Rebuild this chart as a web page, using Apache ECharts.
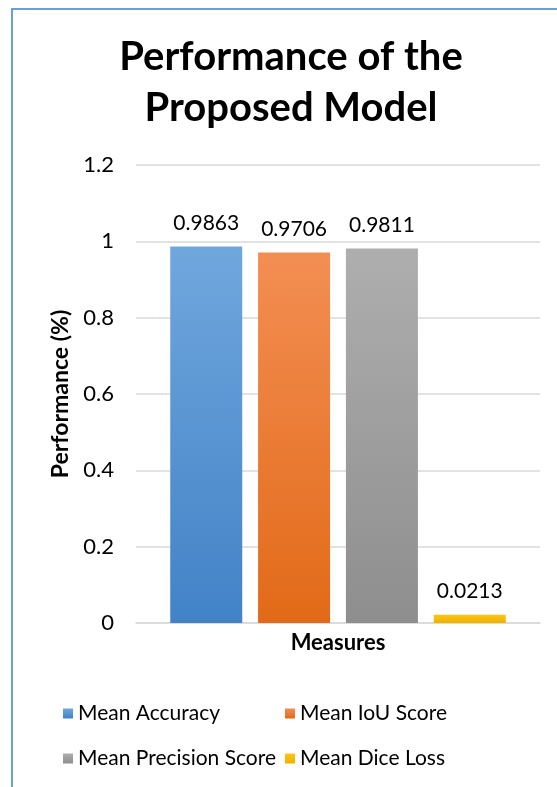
<!DOCTYPE html>
<html>
<head>
<meta charset="utf-8">
<script src="https://cdn.jsdelivr.net/npm/echarts@6/dist/echarts.min.js"></script>
<style>
  html, body { margin: 0; padding: 0; background: #fff; }
  #frame { position: absolute; left: 11px; top: 8px; width: 560px; height: 800px;
           border-left: 2px solid #6a9fd8; border-top: 2px solid #6a9fd8; box-sizing: border-box; }
  #chart { position: absolute; left: 0; top: 0; width: 557px; height: 787px; }
</style>
</head>
<body>
<div id="frame"></div>
<div id="chart"></div>
<script>
// Chart data
const categories = ['Measures'];
const seriesNames = ['Mean Accuracy', 'Mean IoU Score', 'Mean Precision Score', 'Mean Dice Loss'];
const seriesValues = [0.9863, 0.9706, 0.9811, 0.0213];
const yTicks = [0, 0.2, 0.4, 0.6, 0.8, 1, 1.2];

// Top/bottom gradient colours per series
const colorPairs = [
  ['#70a7dd', '#4282c7'],
  ['#f38e53', '#e26a18'],
  ['#aeaeae', '#8e8e8e'],
  ['#ffc414', '#eeb100']
];

const FONT = 'Lato, "Open Sans", sans-serif';

const chart = echarts.init(document.getElementById('chart'), null, { renderer: 'canvas' });

const series = seriesNames.map((name, i) => ({
  name: name,
  type: 'bar',
  data: [seriesValues[i]],
  barWidth: 72,
  barGap: '22%',
  itemStyle: {
    color: new echarts.graphic.LinearGradient(0, 0, 0, 1, [
      { offset: 0, color: colorPairs[i][0] },
      { offset: 1, color: colorPairs[i][1] }
    ])
  },
  label: {
    show: true,
    position: 'top',
    distance: 13,
    color: '#000',
    fontFamily: FONT,
    fontSize: 21,
    formatter: p => String(p.value)
  }
}));

// Legend placed as a 2x2 block
const legendPos = [
  { left: 58, top: 698 },
  { left: 280, top: 698 },
  { left: 58, top: 743 },
  { left: 280, top: 743 }
];
const legends = seriesNames.map((name, i) => ({
  data: [name],
  left: legendPos[i].left,
  top: legendPos[i].top,
  itemWidth: 10,
  itemHeight: 10,
  itemGap: 0,
  icon: 'rect',
  textStyle: { fontFamily: FONT, fontSize: 21, color: '#000', padding: [0, 0, 0, 0] },
  selectedMode: false
}));

chart.setOption({
  animation: false,
  backgroundColor: 'transparent',
  title: {
    text: 'Performance of the\nProposed Model',
    left: 286,
    textAlign: 'center',
    top: 27,
    textStyle: { fontFamily: FONT, fontWeight: 'bold', fontSize: 40, lineHeight: 51, color: '#000' }
  },
  legend: legends,
  grid: { left: 136, right: 17, top: 165, bottom: 164 },
  xAxis: {
    type: 'category',
    data: categories,
    name: 'Measures',
    nameLocation: 'middle',
    nameGap: 9,
    nameTextStyle: { fontFamily: FONT, fontWeight: 'bold', fontSize: 22, color: '#000', padding: [0, 0, 0, 0] },
    axisLine: { show: true, lineStyle: { color: '#d9d9d9', width: 1.5 } },
    axisTick: { show: false },
    axisLabel: { show: false }
  },
  yAxis: {
    type: 'value',
    min: 0,
    max: 1.2,
    interval: 0.2,
    name: 'Performance (%)',
    nameLocation: 'middle',
    nameGap: 64,
    nameTextStyle: { fontFamily: FONT, fontWeight: 'bold', fontSize: 23, color: '#000' },
    axisLine: { show: false },
    axisTick: { show: false },
    splitLine: { lineStyle: { color: '#d9d9d9', width: 1.5 } },
    axisLabel: {
      margin: 22,
      fontFamily: FONT,
      fontSize: 22,
      color: '#000',
      formatter: v => {
        const t = yTicks.find(x => Math.abs(x - v) < 1e-9);
        return t === undefined ? '' : String(t);
      }
    }
  },
  series: series
});
</script>
</body>
</html>
